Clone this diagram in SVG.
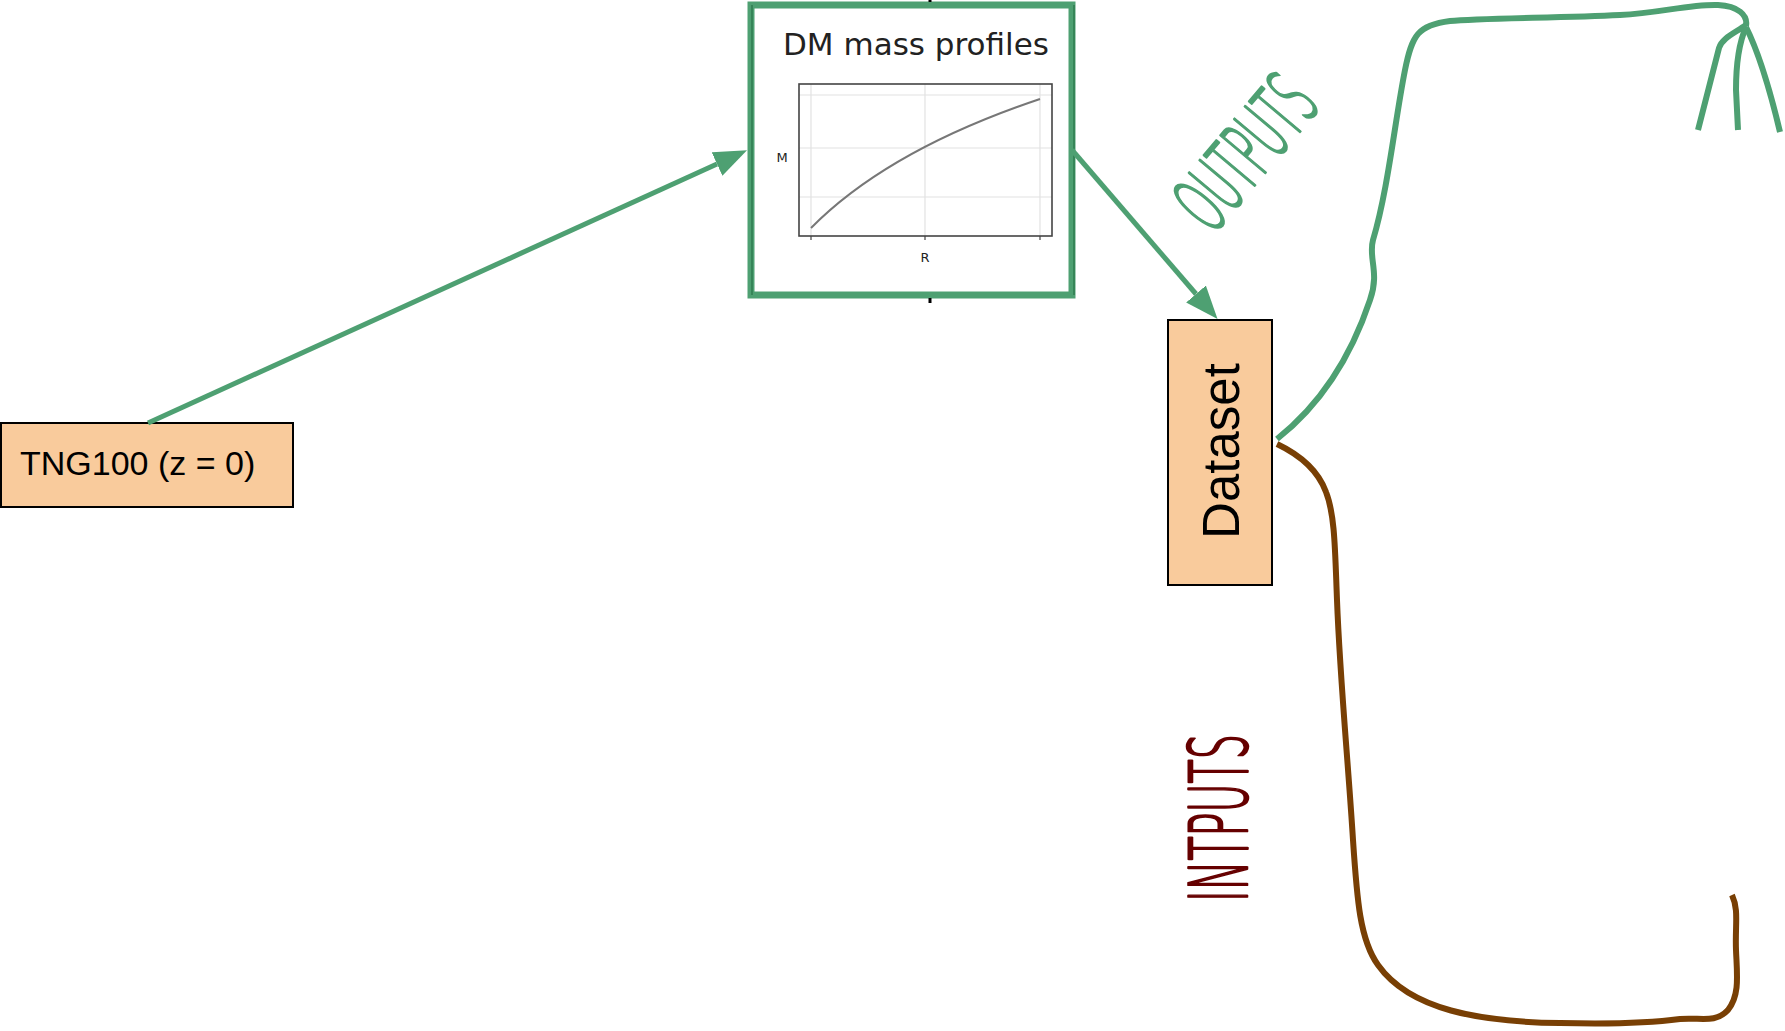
<svg xmlns="http://www.w3.org/2000/svg" width="1785" height="1031" viewBox="0 0 1785 1031">
<style>
.node{fill:#f9cb9c;stroke:#000;stroke-width:2}
.lbl{font-family:"Liberation Sans",Arial,sans-serif;fill:#000}
.conn{fill:none;stroke:#4ea072;stroke-width:5}
.brk{fill:none;stroke-width:6;stroke-linecap:butt}
.hand{font-family:"DejaVu Sans","Liberation Sans",sans-serif;font-weight:200;stroke-width:2.6;stroke-linejoin:round;stroke-linecap:round}
.grid{stroke:#e2e2e2;stroke-width:1.2}
.mpl{font-family:"DejaVu Sans",sans-serif;fill:#222}
</style>
<defs>
<marker id="ah" viewBox="0 0 33 26" refX="0" refY="13" markerWidth="33" markerHeight="26" markerUnits="userSpaceOnUse" orient="auto">
<path d="M0,0 L33,13 L0,26 z" fill="#4ea072"/>
</marker>
</defs>
<rect width="1785" height="1031" fill="#fff"/>

<g id="plot">
<rect x="751" y="5" width="321" height="290" fill="#fff" stroke="#4ea072" stroke-width="7"/>
<line x1="752" y1="5" x2="752" y2="295" stroke="#2f7d50" stroke-width="1.5"/>
<line x1="1074" y1="5" x2="1074" y2="295" stroke="#2f7d50" stroke-width="1.5"/>
<line x1="930" y1="0" x2="930" y2="2" stroke="#000" stroke-width="3"/>
<line x1="930" y1="298" x2="930" y2="303" stroke="#000" stroke-width="3"/>
<text class="mpl" x="783" y="55" font-size="31">DM mass profiles</text>
<line class="grid" x1="811" y1="84" x2="811" y2="236"/>
<line class="grid" x1="925" y1="84" x2="925" y2="236"/>
<line class="grid" x1="1040" y1="84" x2="1040" y2="236"/>
<line class="grid" x1="799" y1="95" x2="1052" y2="95"/>
<line class="grid" x1="799" y1="148" x2="1052" y2="148"/>
<line class="grid" x1="799" y1="197" x2="1052" y2="197"/>
<path d="M811,228 Q888,150 1040,99" fill="none" stroke="#777" stroke-width="2"/>
<rect x="799" y="84" width="253" height="152" fill="none" stroke="#444" stroke-width="1.6"/>
<line x1="811" y1="236" x2="811" y2="240" stroke="#444" stroke-width="1.2"/>
<line x1="925" y1="236" x2="925" y2="240" stroke="#444" stroke-width="1.2"/>
<line x1="1040" y1="236" x2="1040" y2="240" stroke="#444" stroke-width="1.2"/>
<text class="mpl" x="925" y="262" font-size="13" text-anchor="middle">R</text>
<text class="mpl" x="782" y="162" font-size="13" text-anchor="middle">M</text>
</g>

<g id="tng100">
<rect class="node" x="1" y="423" width="292" height="84"/>
<text class="lbl" x="20" y="475" font-size="34">TNG100 (z = 0)</text>
</g>

<g id="dataset">
<rect class="node" x="1168" y="320" width="104" height="265"/>
<text class="lbl" transform="translate(1220,451) rotate(-90)" x="0" y="19" font-size="51" text-anchor="middle">Dataset</text>
</g>

<g id="connectors">
<path class="conn" d="M148,423 L717,164" marker-end="url(#ah)"/>
<path class="conn" d="M1072,150 L1196,294" marker-end="url(#ah)"/>
<path class="brk" stroke="#4ea072" d="M1277,439 C1320,405 1350,360 1370,300 C1380,272 1368,258 1373,240 C1388,190 1395,120 1405,70 C1412,35 1418,25 1450,21 C1480,18 1560,18 1620,15 C1660,13 1690,4 1718,5 C1738,6 1748,15 1746,26"/>
<path class="brk" stroke="#4ea072" d="M1746,25 C1735,33 1722,38 1719,48 L1698,130"/>
<path class="brk" stroke="#4ea072" d="M1746,27 C1738,45 1736,65 1736,90 L1738,130"/>
<path class="brk" stroke="#4ea072" d="M1746,27 C1760,55 1770,90 1780,132"/>
<path class="brk" stroke="#783f04" d="M1277,444 C1300,455 1318,470 1326,492 C1335,515 1335,550 1337,600 C1340,680 1348,760 1353,840 C1357,900 1360,940 1378,965 C1410,1010 1480,1022 1560,1023 C1600,1024 1650,1023 1680,1019 C1700,1017 1715,1024 1728,1010 C1740,995 1737,975 1736,950 C1735,925 1739,910 1732,895"/>
</g>

<g id="outputs-label">
<text class="hand" transform="translate(1245,152) rotate(-50)" x="0" y="29" font-size="80" fill="#4ea072" stroke="#4ea072" text-anchor="middle" textLength="170" lengthAdjust="spacingAndGlyphs">OUTPUTS</text>
</g>
<g id="inputs-label">
<text class="hand" transform="translate(1218,818) rotate(-90)" x="0" y="29" font-size="80" fill="#660000" stroke="#660000" text-anchor="middle" textLength="168" lengthAdjust="spacingAndGlyphs">INTPUTS</text>
</g>
</svg>
